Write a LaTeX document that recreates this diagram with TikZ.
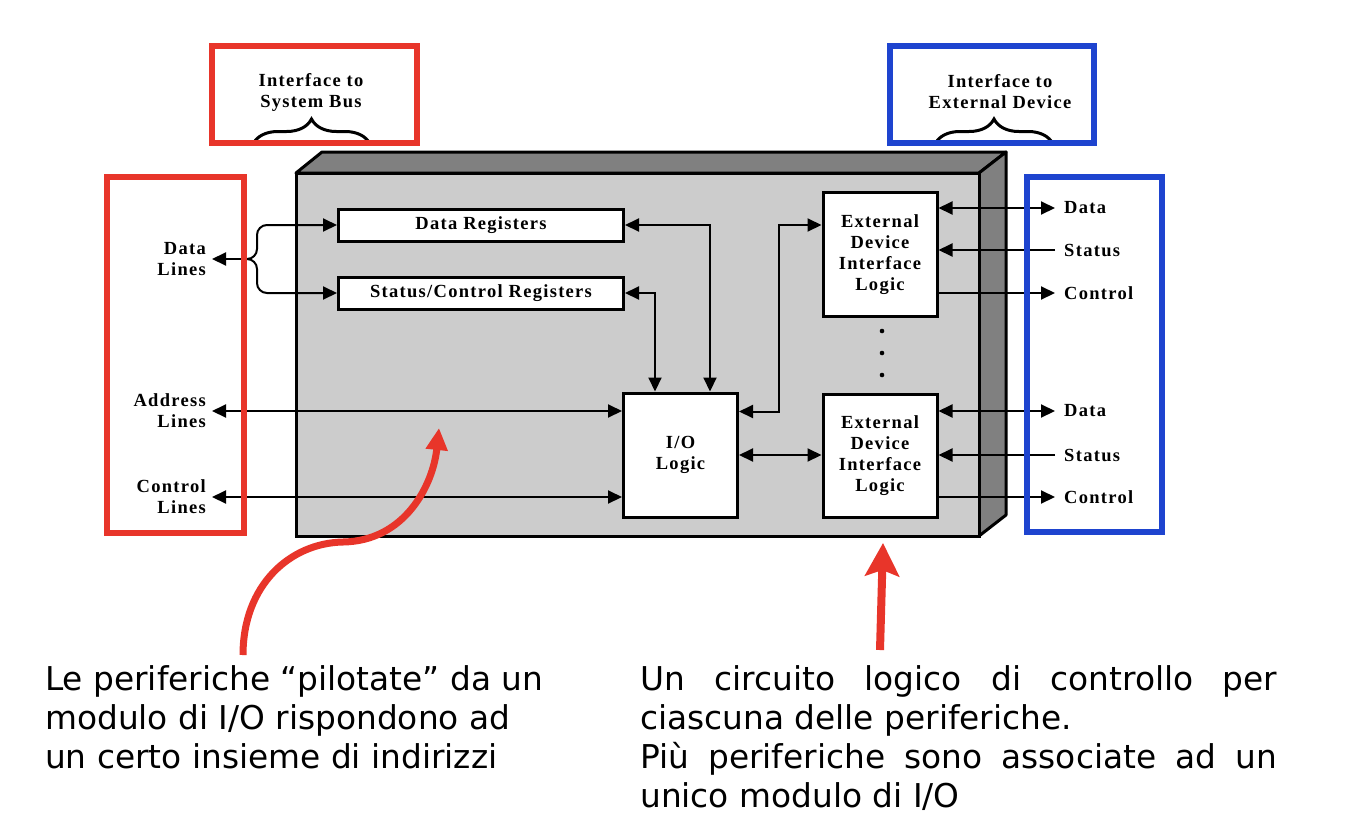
\documentclass[tikz,border=0pt]{standalone}
\usepackage{fontspec}
\setmainfont{Liberation Serif}
\newfontfamily\lblfont[LetterSpace=7]{Liberation Serif}
\newfontfamily\txtfont{DejaVu Sans}
\usetikzlibrary{arrows.meta,decorations.pathreplacing}
\definecolor{myred}{HTML}{E8352A}
\definecolor{myblue}{HTML}{1E44CF}
\definecolor{facegray}{HTML}{CCCCCC}
\definecolor{sidegray}{HTML}{808080}
\tikzset{
  lbl/.style={font=\lblfont\bfseries\fontsize{18.5}{21}\selectfont, align=center},
  boxw/.style={draw, line width=3pt, fill=white, lbl},
  conn/.style={line width=2pt},
  frame/.style={line width=6pt},
  brc/.style={line width=3pt, decorate, decoration={brace, amplitude=25pt}},
  note/.style={font=\txtfont\fontsize{32.8}{39}\selectfont, anchor=north west, inner sep=0pt, align=left},
}
\begin{document}
\begin{tikzpicture}[x=1pt,y=-1pt, >={Triangle[length=14pt,width=13pt]}]
\useasboundingbox[fill=white] (0,0) rectangle (1346,822);

% module body
\draw[line width=3pt, fill=sidegray, line join=round] (296,173) -- (322,152) -- (1006,152) -- (979,173) -- cycle;
\draw[line width=3pt, fill=sidegray, line join=round] (979,173) -- (1006,152) -- (1006,515) -- (979,536) -- cycle;
\draw[line width=3pt, fill=facegray] (296,173) rectangle (979,536);

% inner blocks
\node[boxw, minimum width=285pt, minimum height=32pt] (dr) at (481,225) {Data Registers};
\node[boxw, minimum width=285pt, minimum height=32pt] (scr) at (481,293) {Status/Control Registers};
\node[boxw, minimum width=114pt, minimum height=124pt] (io) at (680.5,455) {I/O\\Logic};
\node[boxw, minimum width=114pt, minimum height=124pt] (ed1) at (880,254.5) {External\\Device\\Interface\\Logic};
\node[boxw, minimum width=114pt, minimum height=123pt] (ed2) at (880,455.5) {External\\Device\\Interface\\Logic};

\fill (882,331) circle (2.3);
\fill (882,353) circle (2.3);
\fill (882,375) circle (2.3);

% left labels
\node[lbl, anchor=east, align=right, inner xsep=6pt] (dl) at (212,259) {Data\\Lines};
\node[lbl, anchor=east, align=right, inner xsep=6pt] (al) at (212,411) {Address\\Lines};
\node[lbl, anchor=east, align=right, inner xsep=6pt] (cl) at (212,497) {Control\\Lines};

% right labels
\node[lbl, anchor=west, inner xsep=9pt] (d1) at (1055,208) {Data};
\node[lbl, anchor=west, inner xsep=9pt] (s1) at (1055,250) {Status};
\node[lbl, anchor=west, inner xsep=9pt] (c1) at (1055,293) {Control};
\node[lbl, anchor=west, inner xsep=9pt] (d2) at (1055,411) {Data};
\node[lbl, anchor=west, inner xsep=9pt] (s2) at (1055,455) {Status};
\node[lbl, anchor=west, inner xsep=9pt] (c2) at (1055,497) {Control};

% connectors
\coordinate (br) at (246,259);
\draw[conn,->] (br) -- (dl.east);
\draw[conn,->,rounded corners=10pt] (br) -- (257,259) -- (257,225) -- (dr.west);
\draw[conn,->,rounded corners=10pt] (br) -- (257,259) -- (257,293) -- (scr.west);
\draw[conn,<->] (dr.east) -| ([xshift=29.5pt]io.north);
\draw[conn,<->] (scr.east) -| ([xshift=-25.5pt]io.north);
\draw[conn,<->] (al.east) -- (al.east -| io.west);
\draw[conn,<->] (cl.east) -- (cl.east -| io.west);
\draw[conn,<->] ([yshift=43.5pt]io.east) -| ([xshift=-43pt,yshift=29.5pt]ed1.west) -- ([yshift=29.5pt]ed1.west);
\draw[conn,<->] (io.east) -- (io.east -| ed2.west);

\draw[conn,<->] (ed1.east |- d1.west) -- (d1.west);
\draw[conn,->] (s1.west) -- (ed1.east |- s1.west);
\draw[conn,->] (ed1.east |- c1.west) -- (c1.west);
\draw[conn,<->] (ed2.east |- d2.west) -- (d2.west);
\draw[conn,->] (s2.west) -- (ed2.east |- s2.west);
\draw[conn,->] (ed2.east |- c2.west) -- (c2.west);

% top interface labels
\node[lbl] (t1) at (311,92) {Interface to\\System Bus};
\node[lbl] (t2) at (1000,92) {Interface to\\External Device};
\draw[brc] (253,144) -- (370,144);
\draw[brc] (935,144) -- (1053,144);

% coloured frames
\draw[myred, frame] (107,177) rectangle (244,533);
\draw[myred, frame] (211.5,46) rectangle (416.5,143);
\draw[myblue, frame] (890,46) rectangle (1094,143);
\draw[myblue, frame] (1027,177) rectangle (1162,532);

% notes
\node[note] (n1) at (45,665) {Le periferiche “pilotate” da un\\modulo di I/O rispondono ad\\un certo insieme di indirizzi};
\node[note] (n2) at (640,665) {\makebox[637pt][s]{Un circuito logico di controllo per}\\ciascuna delle periferiche.\\\makebox[637pt][s]{Più periferiche sono associate ad un}\\unico modulo di I/O};

\coordinate (a1s) at (243,655);
\coordinate (a1e) at (439,428);
\coordinate (a2s) at (880,650);
\coordinate (a2e) at (883,543);
\draw[myred, line width=7pt, -{Triangle[length=22pt,width=21pt]}] (a1s) .. controls (243,585) and (290,543) .. (343,542) .. controls (405,541) and (433,485) .. (a1e);
\draw[myred, line width=8pt, -{Stealth[length=33pt,width=34pt,inset=6pt]}] (a2s) -- (a2e);
\end{tikzpicture}
\end{document}
